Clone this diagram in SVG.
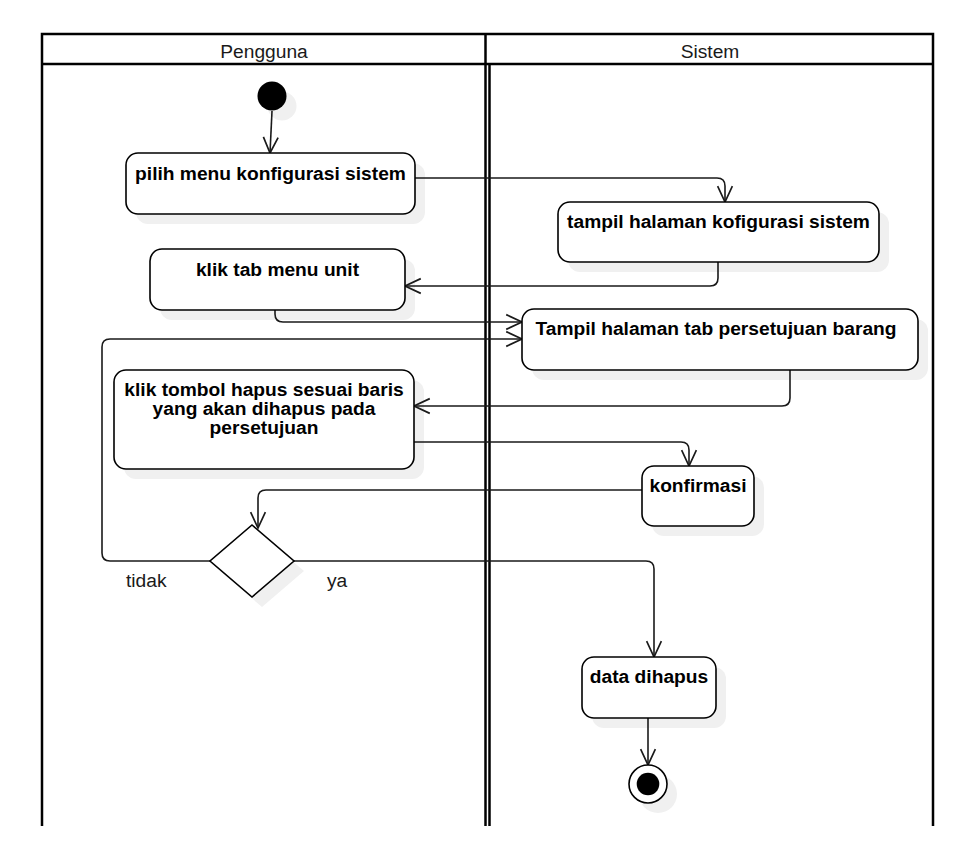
<svg xmlns="http://www.w3.org/2000/svg" width="966" height="867" viewBox="0 0 966 867">
<style>
  .lane { fill: none; stroke: #000; stroke-width: 2.5; }
  .hdr { font-family: "Liberation Sans", Arial, sans-serif; font-size: 19.2px; fill: #1a1a1a; text-anchor: middle; }
  .box { fill: #fff; stroke: #000; stroke-width: 1.6; }
  .shadow { fill: #f0f0f0; stroke: none; }
  .lbl { font-family: "Liberation Sans", Arial, sans-serif; font-size: 19.2px; font-weight: bold; fill: #000; text-anchor: middle; }
  .elbl { font-family: "Liberation Sans", Arial, sans-serif; font-size: 19.2px; fill: #1a1a1a; }
  .edge { fill: none; stroke: #1a1a1a; stroke-width: 1.6; marker-end: url(#open); }
</style>
<defs>
  <marker id="open" markerUnits="userSpaceOnUse" markerWidth="20" markerHeight="20" viewBox="-17 -9 19 18" refX="0" refY="0" orient="auto">
    <path d="M-15,-7 L0,0 L-15,7" fill="none" stroke="#1a1a1a" stroke-width="1.6"/>
  </marker>
</defs>
<rect width="966" height="867" fill="#fff"/>

<g id="lanes">
  <path class="lane" d="M42,826 V34 H933 V826"/>
  <path class="lane" d="M42,64 H933"/>
  <path class="lane" d="M485.5,34 V826"/>
  <path class="lane" d="M489.5,64 V826"/>
  <text class="hdr" x="264" y="58">Pengguna</text>
  <text class="hdr" x="710" y="58">Sistem</text>
</g>

<g id="shadows">
  <circle class="shadow" cx="282" cy="106" r="14.5"/>
  <rect class="shadow" x="136" y="163" width="289" height="61" rx="12"/>
  <rect class="shadow" x="568" y="212" width="321" height="60" rx="12"/>
  <rect class="shadow" x="160" y="259" width="255" height="61" rx="12"/>
  <rect class="shadow" x="532" y="319" width="396" height="61" rx="12"/>
  <rect class="shadow" x="124" y="380" width="300" height="99" rx="12"/>
  <rect class="shadow" x="652" y="476" width="112" height="60" rx="12"/>
  <polygon class="shadow" points="262,535 304,571 262,607 220,571"/>
  <rect class="shadow" x="592" y="667" width="134" height="61" rx="12"/>
  <circle class="shadow" cx="658" cy="794" r="19"/>
</g>

<g id="connectors">
  <path class="edge" d="M272,111 L270,153"/>
  <path class="edge" d="M415,178 H717 Q725,178 725,186 V202"/>
  <path class="edge" d="M718,262 V278 Q718,286 710,286 H405"/>
  <path class="edge" d="M275,310 V314 Q275,322 283,322 H522"/>
  <path class="edge" d="M210,561 H110 Q102,561 102,553 V347 Q102,339 110,339 H522"/>
  <path class="edge" d="M790,370 V398 Q790,406 782,406 H414"/>
  <path class="edge" d="M414,442 H681 Q689,442 689,450 V466"/>
  <path class="edge" d="M642,490 H266 Q258,490 258,498 V528"/>
  <path class="edge" d="M294,561 H646 Q654,561 654,569 V657"/>
  <path class="edge" d="M648,718 V765"/>
  <text class="elbl" x="126" y="587">tidak</text>
  <text class="elbl" x="327" y="587">ya</text>
</g>

<g id="start">
  <circle cx="272" cy="96" r="14.5" fill="#000"/>
</g>

<g id="n1">
  <rect class="box" x="126" y="153" width="289" height="61" rx="12"/>
  <text class="lbl" x="270.5" y="180">pilih menu konfigurasi sistem</text>
</g>

<g id="n2">
  <rect class="box" x="558" y="202" width="321" height="60" rx="12"/>
  <text class="lbl" x="718.5" y="228">tampil halaman kofigurasi sistem</text>
</g>

<g id="n3">
  <rect class="box" x="150" y="249" width="255" height="61" rx="12"/>
  <text class="lbl" x="277.5" y="276">klik tab menu unit</text>
</g>

<g id="n4">
  <rect class="box" x="522" y="309" width="396" height="61" rx="12"/>
  <text class="lbl" x="716" y="335">Tampil halaman tab persetujuan barang</text>
</g>

<g id="n5">
  <rect class="box" x="114" y="370" width="300" height="99" rx="12"/>
  <text class="lbl" x="264" y="396">klik tombol hapus sesuai baris</text>
  <text class="lbl" x="264" y="415">yang akan dihapus pada</text>
  <text class="lbl" x="264" y="434">persetujuan</text>
</g>

<g id="n6">
  <rect class="box" x="642" y="466" width="112" height="60" rx="12"/>
  <text class="lbl" x="698" y="492">konfirmasi</text>
</g>

<g id="decision">
  <polygon class="box" points="252,525 294,561 252,597 210,561"/>
</g>

<g id="n7">
  <rect class="box" x="582" y="657" width="134" height="61" rx="12"/>
  <text class="lbl" x="649" y="683">data dihapus</text>
</g>

<g id="end">
  <circle cx="648" cy="784" r="19" fill="#fff" stroke="#000" stroke-width="1.6"/>
  <circle cx="648" cy="784" r="11.3" fill="#000"/>
</g>
</svg>
